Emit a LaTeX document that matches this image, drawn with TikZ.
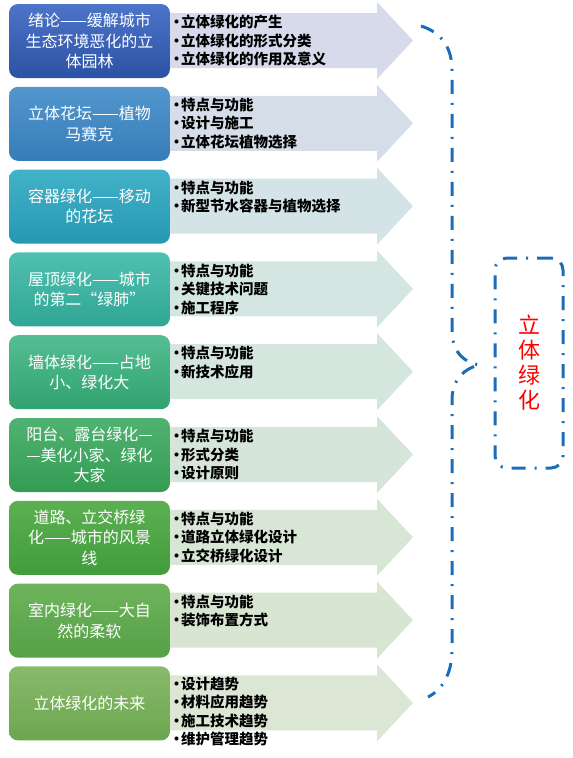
\documentclass[tikz,border=0pt]{standalone}
\usepackage{fontspec}
\newfontfamily\cjk{Noto Sans CJK SC}
\definecolor{bracketblue}{HTML}{1C6DB8}
\definecolor{labelred}{HTML}{FF0000}
\newcommand{\itemdot}{\makebox[9pt]{•}}

\begin{document}
\begin{tikzpicture}[x=1pt,y=-1pt]
\tikzset{
  topicbox/.style={rounded corners=9pt,minimum width=161pt,minimum height=74pt,inner sep=0pt,
    align=center,text=white,font=\cjk\fontsize{16}{20.5}\selectfont},
  itemlist/.style={anchor=north west,inner sep=0pt,align=left,font=\cjk\bfseries\fontsize{14.5}{18.5}\selectfont},
  bracketline/.style={draw=bracketblue,line width=3pt,dash pattern=on 14pt off 9pt on 2pt off 9pt}
}
\useasboundingbox (0,0) rectangle (573,758);
% band arrows behind the boxes
\fill[fill={rgb,255:red,215;green,218;blue,234}] (165,13) -- ++(212,0) -- ++(0,-11) -- ++(36,38.5) -- ++(-36,38.5) -- ++(0,-11) -- ++(-212,0) -- cycle;
\fill[fill={rgb,255:red,212;green,221;blue,232}] (165,95.8) -- ++(212,0) -- ++(0,-11) -- ++(36,38.5) -- ++(-36,38.5) -- ++(0,-11) -- ++(-212,0) -- cycle;
\fill[fill={rgb,255:red,211;green,227;blue,230}] (165,178.6) -- ++(212,0) -- ++(0,-11) -- ++(36,38.5) -- ++(-36,38.5) -- ++(0,-11) -- ++(-212,0) -- cycle;
\fill[fill={rgb,255:red,212;green,230;blue,226}] (165,261.4) -- ++(212,0) -- ++(0,-11) -- ++(36,38.5) -- ++(-36,38.5) -- ++(0,-11) -- ++(-212,0) -- cycle;
\fill[fill={rgb,255:red,213;green,230;blue,223}] (165,344.2) -- ++(212,0) -- ++(0,-11) -- ++(36,38.5) -- ++(-36,38.5) -- ++(0,-11) -- ++(-212,0) -- cycle;
\fill[fill={rgb,255:red,214;green,229;blue,218}] (165,427) -- ++(212,0) -- ++(0,-11) -- ++(36,38.5) -- ++(-36,38.5) -- ++(0,-11) -- ++(-212,0) -- cycle;
\fill[fill={rgb,255:red,216;green,230;blue,214}] (165,509.8) -- ++(212,0) -- ++(0,-11) -- ++(36,38.5) -- ++(-36,38.5) -- ++(0,-11) -- ++(-212,0) -- cycle;
\fill[fill={rgb,255:red,216;green,229;blue,211}] (165,592.6) -- ++(212,0) -- ++(0,-11) -- ++(36,38.5) -- ++(-36,38.5) -- ++(0,-11) -- ++(-212,0) -- cycle;
\fill[fill={rgb,255:red,220;green,230;blue,213}] (165,675.4) -- ++(212,0) -- ++(0,-11) -- ++(36,38.5) -- ++(-36,38.5) -- ++(0,-11) -- ++(-212,0) -- cycle;
% topic boxes
\node[topicbox,top color={rgb,255:red,76;green,116;blue,200},bottom color={rgb,255:red,44;green,82;blue,165}] (t_intro) at (89.5,41) {绪论——缓解城市\\生态环境恶化的立\\体园林};
\node[topicbox,top color={rgb,255:red,82;green,150;blue,205},bottom color={rgb,255:red,54;green,125;blue,185}] (t_bed) at (89.5,123.8) {立体花坛——植物\\马赛克};
\node[topicbox,top color={rgb,255:red,66;green,178;blue,200},bottom color={rgb,255:red,38;green,152;blue,178}] (t_pot) at (89.5,206.6) {容器绿化——移动\\的花坛};
\node[topicbox,top color={rgb,255:red,80;green,192;blue,176},bottom color={rgb,255:red,48;green,166;blue,148}] (t_roof) at (89.5,289.4) {屋顶绿化——城市\\的第二“绿肺”};
\node[topicbox,top color={rgb,255:red,84;green,190;blue,146},bottom color={rgb,255:red,50;green,162;blue,112}] (t_wall) at (89.5,372.2) {墙体绿化——占地\\小、绿化大};
\node[topicbox,top color={rgb,255:red,80;green,178;blue,114},bottom color={rgb,255:red,52;green,156;blue,82}] (t_balcony) at (89.5,455) {阳台、露台绿化—\\—美化小家、绿化\\大家};
\node[topicbox,top color={rgb,255:red,92;green,176;blue,82},bottom color={rgb,255:red,66;green,156;blue,60}] (t_road) at (89.5,537.8) {道路、立交桥绿\\化——城市的风景\\线};
\node[topicbox,top color={rgb,255:red,110;green,180;blue,92},bottom color={rgb,255:red,86;green,160;blue,70}] (t_indoor) at (89.5,620.6) {室内绿化——大自\\然的柔软};
\node[topicbox,top color={rgb,255:red,136;green,186;blue,106},bottom color={rgb,255:red,108;green,166;blue,80}] (t_future) at (89.5,703.4) {立体绿化的未来};
% item lists
\node[itemlist] (l_intro) at (172,15) {\itemdot 立体绿化的产生\\\itemdot 立体绿化的形式分类\\\itemdot 立体绿化的作用及意义};
\node[itemlist] (l_bed) at (172,97.8) {\itemdot 特点与功能\\\itemdot 设计与施工\\\itemdot 立体花坛植物选择};
\node[itemlist] (l_pot) at (172,180.6) {\itemdot 特点与功能\\\itemdot 新型节水容器与植物选择};
\node[itemlist] (l_roof) at (172,263.4) {\itemdot 特点与功能\\\itemdot 关键技术问题\\\itemdot 施工程序};
\node[itemlist] (l_wall) at (172,346.2) {\itemdot 特点与功能\\\itemdot 新技术应用};
\node[itemlist] (l_balcony) at (172,429) {\itemdot 特点与功能\\\itemdot 形式分类\\\itemdot 设计原则};
\node[itemlist] (l_road) at (172,511.8) {\itemdot 特点与功能\\\itemdot 道路立体绿化设计\\\itemdot 立交桥绿化设计};
\node[itemlist] (l_indoor) at (172,594.6) {\itemdot 特点与功能\\\itemdot 装饰布置方式};
\node[itemlist] (l_future) at (172,676.4) {\itemdot 设计趋势\\\itemdot 材料应用趋势\\\itemdot 施工技术趋势\\\itemdot 维护管理趋势};
% brace and title
\coordinate (b_top) at (421,26);
\coordinate (b_tip) at (480,365);
\coordinate (b_bot) at (428,697);
\draw[bracketline] (b_top) .. controls (440,32) and (452,46) .. (452,70) -- (452,330)
  .. controls (452,352) and (464,363) .. (b_tip)
  .. controls (464,368) and (452,380) .. (452,400) -- (452,650)
  .. controls (452,674) and (442,690) .. (b_bot);
\node[bracketline,rounded corners=12pt,minimum width=68pt,minimum height=210pt] (title_box) at (529,363) {};
\node[text=labelred,align=center,font=\cjk\fontsize{22}{25}\selectfont] (title) at (title_box) {立\\体\\绿\\化};
\end{tikzpicture}
\end{document}
